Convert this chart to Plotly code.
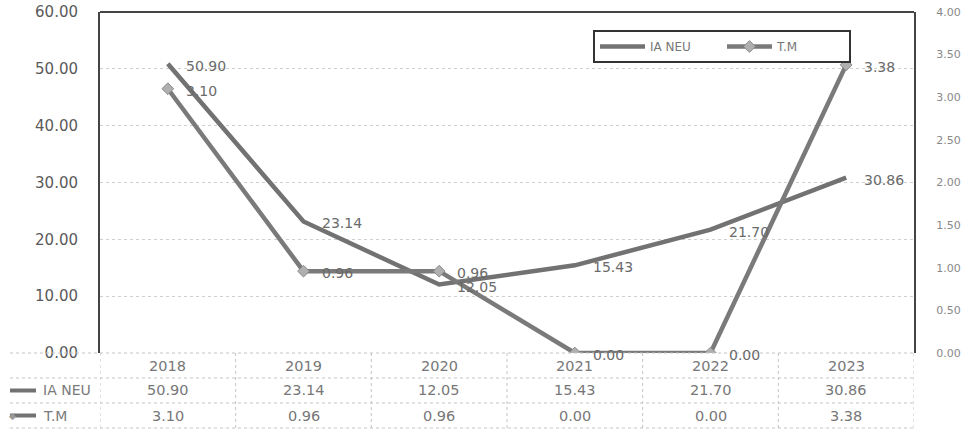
import plotly.graph_objects as go

years = ["2018", "2019", "2020", "2021", "2022", "2023"]
ia_neu = [50.90, 23.14, 12.05, 15.43, 21.70, 30.86]
tm = [3.10, 0.96, 0.96, 0.00, 0.00, 3.38]
left_ticks = [0, 10, 20, 30, 40, 50, 60]
right_ticks = [0, 0.5, 1.0, 1.5, 2.0, 2.5, 3.0, 3.5, 4.0]

W, H = 968, 430
ML, MR, MT, MB = 100, 54, 12, 77
PW = W - ML - MR
PH = H - MT - MB
ROW = 25

FONT = "DejaVu Sans"
LINE_C = "#727272"
TXT_C = "#6a6a6a"

fig = go.Figure()
fig.add_trace(go.Scatter(
    x=years, y=ia_neu, name="IA NEU", mode="lines",
    line=dict(color=LINE_C, width=4.5), yaxis="y"))
fig.add_trace(go.Scatter(
    x=years, y=tm, name="T.M", mode="lines+markers",
    line=dict(color="#7a7a7a", width=4.5),
    marker=dict(symbol="diamond", size=9, color="#b0b0b0",
                line=dict(color="#888888", width=1)),
    yaxis="y2"))

ann = []
# data labels (x given as category index)
for i, v in enumerate(ia_neu):
    ann.append(dict(x=i, y=v, xref="x", yref="y", text=f"{v:.2f}",
                    showarrow=False, xanchor="left", yanchor="middle",
                    xshift=16, yshift=-2,
                    font=dict(family=FONT, size=14, color=TXT_C)))
for i, v in enumerate(tm):
    ann.append(dict(x=i, y=v, xref="x", yref="y2", text=f"{v:.2f}",
                    showarrow=False, xanchor="left", yanchor="middle",
                    xshift=16, yshift=-2,
                    font=dict(family=FONT, size=14, color=TXT_C)))

# table
def py(px_below):
    return -px_below / PH

rows = [years, [f"{v:.2f}" for v in ia_neu], [f"{v:.2f}" for v in tm]]
for r, vals in enumerate(rows):
    for i, t in enumerate(vals):
        ann.append(dict(x=i, y=py(ROW * r + ROW / 2), xref="x", yref="paper",
                        text=t, showarrow=False, xanchor="center",
                        yanchor="middle",
                        font=dict(family=FONT, size=14.5, color="#777777")))

shapes = []
x_left_tbl = (10 - ML) / PW
for r in range(4):
    shapes.append(dict(type="line", xref="paper", yref="paper",
                       x0=x_left_tbl, x1=1, y0=py(ROW * r), y1=py(ROW * r),
                       line=dict(color="#c4c4c4", width=1, dash="dot")))
for i in range(len(years) + 1):
    shapes.append(dict(type="line", xref="x", yref="paper",
                       x0=i - 0.5, x1=i - 0.5, y0=py(3 * ROW), y1=0,
                       line=dict(color="#c4c4c4", width=1, dash="dot")))
# top border
shapes.append(dict(type="line", xref="paper", yref="paper", x0=0, x1=1,
                   y0=1, y1=1, line=dict(color="#444444", width=2)))
# table legend keys
for r, name in [(1, "IA NEU"), (2, "T.M")]:
    yk = py(ROW * r + ROW / 2)
    shapes.append(dict(type="line", xref="paper", yref="paper",
                       x0=(10 - ML) / PW, x1=(36 - ML) / PW, y0=yk, y1=yk,
                       line=dict(color=LINE_C, width=4)))
    ann.append(dict(x=(41 - ML) / PW, y=yk, xref="paper", yref="paper",
                    text=name, showarrow=False, xanchor="left",
                    yanchor="middle",
                    font=dict(family=FONT, size=14, color="#7a7a7a")))
ann.append(dict(x=(12 - ML) / PW, y=py(ROW * 2 + ROW / 2), xref="paper",
                yref="paper", text="◆", showarrow=False, xanchor="center",
                yanchor="middle", font=dict(family=FONT, size=9, color="#999999")))

fig.update_layout(
    width=W, height=H, autosize=False,
    margin=dict(l=ML, r=MR, t=MT, b=MB, autoexpand=False),
    paper_bgcolor="white", plot_bgcolor="white",
    font=dict(family=FONT, color=TXT_C),
    showlegend=True,
    legend=dict(orientation="h", x=(593 - ML) / PW, y=(MT + PH - 30) / PH,
                xanchor="left", yanchor="top",
                bordercolor="#333333", borderwidth=2,
                bgcolor="white", itemwidth=45,
                font=dict(family=FONT, size=12, color="#777777"),
                entrywidth=67, tracegroupgap=0),
    xaxis=dict(type="category", range=[-0.5, len(years) - 0.5],
               showticklabels=False, showgrid=False, showline=False,
               zeroline=False, ticks="", automargin=False),
    yaxis=dict(range=[0, 60], tickvals=left_ticks,
               ticktext=[f"{v:.2f}" for v in left_ticks],
               showline=True, linecolor="#444444", linewidth=2,
               showgrid=True, gridcolor="#cfcfcf", griddash="dot",
               gridwidth=1, zeroline=False, ticks="",
               ticklabelstandoff=17, automargin=False,
               tickfont=dict(family=FONT, size=15, color="#5a5a5a")),
    yaxis2=dict(range=[0, 4], tickvals=right_ticks,
                ticktext=[f"{v:.2f}" for v in right_ticks],
                overlaying="y", side="right",
                showline=True, linecolor="#444444", linewidth=2,
                showgrid=False, zeroline=False, ticks="",
                ticklabelstandoff=18, automargin=False,
                tickfont=dict(family=FONT, size=11, color="#888888")),
    annotations=ann, shapes=shapes,
)

fig.write_html("out.html", config={"displayModeBar": False},
               post_script="document.body.style.margin='0px';")
